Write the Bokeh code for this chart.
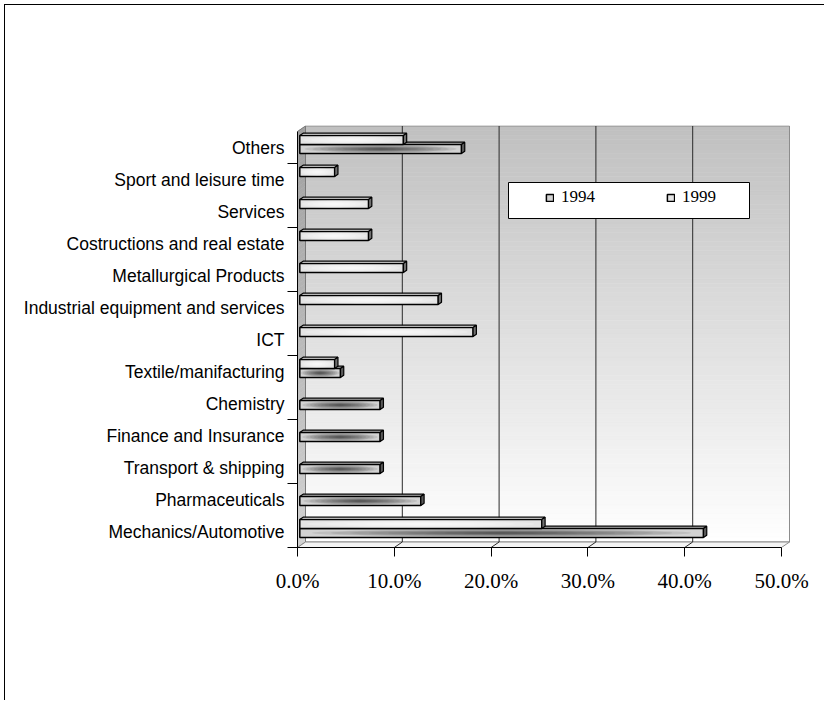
import numpy as np
from bokeh.plotting import figure
from bokeh.models import (Range1d, FixedTicker, PrintfTickFormatter, Legend,
                          LegendItem, BoxAnnotation)
from bokeh.embed import file_html
from bokeh.resources import INLINE

# ---- data (bottom to top) ----
categories = [
    "Mechanics/Automotive",
    "Pharmaceuticals",
    "Transport & shipping",
    "Finance and Insurance",
    "Chemistry",
    "Textile/manifacturing",
    "ICT",
    "Industrial equipment and services",
    "Metallurgical Products",
    "Costructions and real estate",
    "Services",
    "Sport and leisure time",
    "Others",
]
share_1994 = [41.7, 12.5, 8.3, 8.3, 8.3, 4.2, 0, 0, 0, 0, 0, 0, 16.7]
share_1999 = [25.0, 0, 0, 0, 0, 3.6, 17.9, 14.3, 10.7, 7.1, 7.1, 3.6, 10.7]
x_ticks = [0, 10, 20, 30, 40, 50]

N = len(categories)
X_MAX = 50

# pixel scale of the value / category axes
PX_X = 9.68
PX_Y = 32.0
FRAME_W, FRAME_H = 493, 422

# 3-D depth shift of the back wall
DX = 8 / PX_X
DY = 5.5 / PX_Y

# bar geometry (front face offset, thickness, depth of the end cap)
BAR_H = 9 / PX_Y
FX = 2.3 / PX_X
FY = 3.0 / PX_Y
CX = 3.3 / PX_X
CY = 2.3 / PX_Y

# the canvas sits inside a thin black page frame (top and left edges)
p = figure(width=820, height=696, output_backend="svg", toolbar_location=None,
           x_range=Range1d(0, FRAME_W / PX_X),
           y_range=Range1d(-0.5, -0.5 + FRAME_H / PX_Y),
           min_border_left=292, min_border_right=35,
           min_border_top=120, min_border_bottom=154,
           styles={"border-top": "1px solid black",
                   "border-left": "1px solid black",
                   "margin-top": "4px", "margin-left": "4px"})
p.outline_line_color = None
p.grid.visible = False
p.background_fill_color = "white"
p.border_fill_color = "white"


def gray(level):
    g = int(round(level))
    return "#%02x%02x%02x" % (g, g, g)


# ---- back wall with vertical gradient ----
nb = 90
wall_bot = -0.5 + DY
wall_top = N - 0.5 + DY
edges = np.linspace(wall_bot, wall_top, nb + 1)
frac = (np.arange(nb) + 0.5) / nb
wall_cols = [gray(255 - 63 * f) for f in frac]
p.quad(left=DX, right=X_MAX + DX, bottom=edges[:-1], top=edges[1:],
       fill_color=wall_cols, line_color=wall_cols, line_width=0.6)
p.quad(left=DX, right=X_MAX + DX, bottom=wall_bot, top=wall_top,
       fill_alpha=0, line_color="#8c8c8c", line_width=1)

# ---- left side wall ----
lw = np.linspace(-0.5, N - 0.5, nb + 1)
side_xs = [[0, 0, DX, DX] for _ in range(nb)]
side_ys = [[a, b, b + DY, a + DY] for a, b in zip(lw[:-1], lw[1:])]
side_cols = [gray(210 - 50 * f) for f in frac]
p.patches(xs=side_xs, ys=side_ys, fill_color=side_cols, line_color=side_cols,
          line_width=0.6)
p.patch([0, 0, DX, DX], [-0.5, N - 0.5, N - 0.5 + DY, -0.5 + DY],
        fill_alpha=0, line_color="#7a7a7a", line_width=1)

# ---- floor ----
p.patch([0, X_MAX, X_MAX + DX, DX], [-0.5, -0.5, -0.5 + DY, -0.5 + DY],
        fill_color="#f4f4f4", line_color="#8c8c8c", line_width=1)

# ---- gridlines on the back wall and floor ----
inner = [t for t in x_ticks if 0 < t < X_MAX]
p.segment(x0=[t + DX for t in inner], y0=wall_bot,
          x1=[t + DX for t in inner], y1=wall_top,
          line_color="#2a2a2a", line_width=1)
p.segment(x0=inner, y0=-0.5, x1=[t + DX for t in inner], y1=wall_bot,
          line_color="#2a2a2a", line_width=1)


def draw_series(values, upper, base_col, top_col, cap_col, glow_col,
                glow_alpha, steps):
    idx = [i for i, v in enumerate(values) if v > 0]
    v = np.array([values[i] for i in idx], dtype=float)
    c = np.array(idx, dtype=float) + FY
    if upper:
        bot, top = c, c + BAR_H
    else:
        bot, top = c - BAR_H, c
    left = np.full_like(v, FX)
    right = v + FX

    # top face
    p.patches(xs=[[l, r, r + CX, l + CX] for l, r in zip(left, right)],
              ys=[[t, t, t + CY, t + CY] for t in top],
              fill_color=top_col, line_color="black", line_width=1.2)
    # front face
    rend = p.quad(left=left, right=right, bottom=bot, top=top,
                  fill_color=base_col, line_color="black", line_width=1.5)
    # soft shading toward the middle of the face
    for k in range(steps):
        f = 0.94 * (1 - k / steps)
        p.ellipse(x=(left + right) / 2, y=(bot + top) / 2,
                  width=f * (right - left), height=f * BAR_H * 0.9,
                  fill_color=glow_col, fill_alpha=glow_alpha, line_color=None)
    # end cap
    p.patches(xs=[[r, r, r + CX, r + CX] for r in right],
              ys=[[b, t, t + CY, b + CY] for b, t in zip(bot, top)],
              fill_color=cap_col, line_color="black", line_width=1.2)
    return rend


r94 = draw_series(share_1994, False, "#d2d2d2", "#b4b4b4", "#5a5a5a",
                  "black", 0.085, 10)
r99 = draw_series(share_1999, True, "#e4e4e4", "#f6f6f6", "#707070",
                  "white", 0.22, 6)

# ---- axes ----
xa = p.xaxis[0]
xa.ticker = FixedTicker(ticks=x_ticks)
xa.formatter = PrintfTickFormatter(format="%.1f%%")
xa.bounds = (0, X_MAX)
xa.major_tick_out = 9
xa.major_tick_in = 0
xa.minor_tick_out = 0
xa.minor_tick_in = 0
xa.axis_line_color = "black"
xa.major_tick_line_color = "black"
xa.major_label_text_font = "Liberation Serif"
xa.major_label_text_font_size = "21px"
xa.major_label_text_color = "black"
xa.major_label_standoff = 12

ya = p.yaxis[0]
ya.ticker = FixedTicker(ticks=list(range(N)),
                        minor_ticks=[-0.5 + 2 * k for k in range(7)])
ya.major_label_overrides = {i: name for i, name in enumerate(categories)}
ya.bounds = (-0.5, N - 0.5)
ya.major_tick_out = 0
ya.major_tick_in = 0
ya.minor_tick_out = 10
ya.minor_tick_in = 0
ya.minor_tick_line_color = "black"
ya.axis_line_color = "black"
ya.major_label_text_font = "Liberation Sans"
ya.major_label_text_font_size = "17.5px"
ya.major_label_text_color = "black"
ya.major_label_standoff = 3

# ---- legend ----
legend_box = BoxAnnotation(left=502, right=743, top=176, bottom=212,
                           left_units="canvas", right_units="canvas",
                           top_units="canvas", bottom_units="canvas",
                           fill_color="white", fill_alpha=1,
                           line_color="black", line_width=1, line_alpha=1)
p.add_layout(legend_box)

legend = Legend(items=[LegendItem(label="1994", renderers=[r94]),
                       LegendItem(label="1999", renderers=[r99])],
                orientation="horizontal", location=(248, 340),
                padding=0, spacing=71, margin=0,
                glyph_width=9, glyph_height=9, label_standoff=7,
                label_height=17,
                label_text_font="Liberation Serif",
                label_text_font_size="17px", label_text_color="black",
                border_line_alpha=0, background_fill_alpha=0)
p.add_layout(legend)

open("out.html", "w").write(file_html(p, INLINE))
